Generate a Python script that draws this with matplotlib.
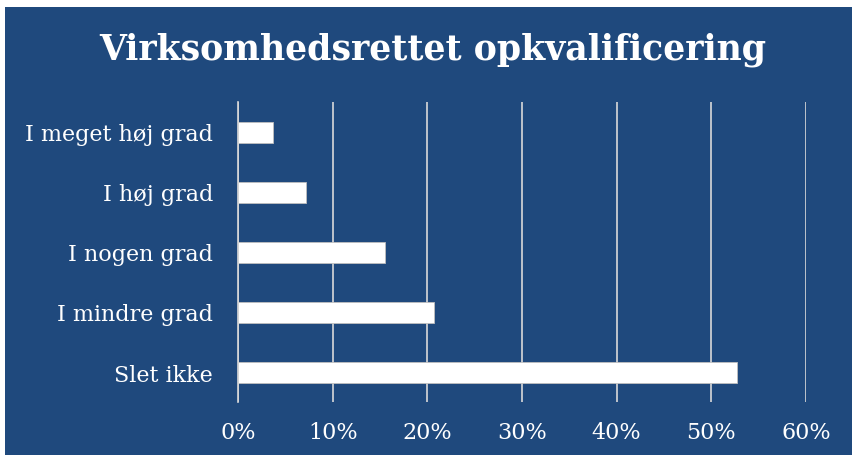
import matplotlib.pyplot as plt
from matplotlib.patches import Rectangle

# categories top to bottom as shown
categories = ["I meget høj grad", "I høj grad", "I nogen grad", "I mindre grad", "Slet ikke"]
shares = [3.7, 7.2, 15.5, 20.7, 52.7]
ticks = [0, 10, 20, 30, 40, 50, 60]
tick_labels = ["0%", "10%", "20%", "30%", "40%", "50%", "60%"]

bg = '#1F497D'
grid_col = '#D9D9D9'

fig = plt.figure(figsize=(8.52, 4.56), dpi=100)
fig.patch.set_facecolor('white')
fig.patches.append(Rectangle((5 / 852, 0), 1, 1 - 8 / 456, transform=fig.transFigure,
                             facecolor=bg, edgecolor='none', zorder=-5))

ax = fig.add_axes([238 / 852, 1 - 403 / 456, (806 - 238) / 852, 300 / 456])
ax.set_facecolor('none')

ypos = list(range(len(categories)))
ax.barh(ypos, shares, height=0.35, color='white', edgecolor='#BFBFBF', linewidth=0.6, zorder=3)

ax.set_ylim(len(categories) - 0.5, -0.5)
ax.set_xlim(0, 60)
ax.set_xticks(ticks)
ax.set_xticklabels(tick_labels)
ax.set_yticks(ypos)
ax.set_yticklabels(categories)

ax.grid(axis='x', color=grid_col, linewidth=1.2, zorder=1)
for s in ['top', 'right', 'bottom']:
    ax.spines[s].set_visible(False)
ax.spines['left'].set_color(grid_col)
ax.spines['left'].set_linewidth(1.2)
ax.spines['left'].set_zorder(4)

ax.tick_params(axis='both', length=0, colors='white', labelsize=16)
ax.tick_params(axis='x', pad=14)
ax.tick_params(axis='y', pad=18)
for lab in ax.get_xticklabels() + ax.get_yticklabels():
    lab.set_fontfamily('DejaVu Serif')

fig.text(0.508, 1 - 50 / 456, "Virksomhedsrettet opkvalificering", color='white',
         fontsize=25, fontweight='bold', family='DejaVu Serif', ha='center', va='center')

fig.savefig('out.png', dpi=100, facecolor=fig.get_facecolor())
